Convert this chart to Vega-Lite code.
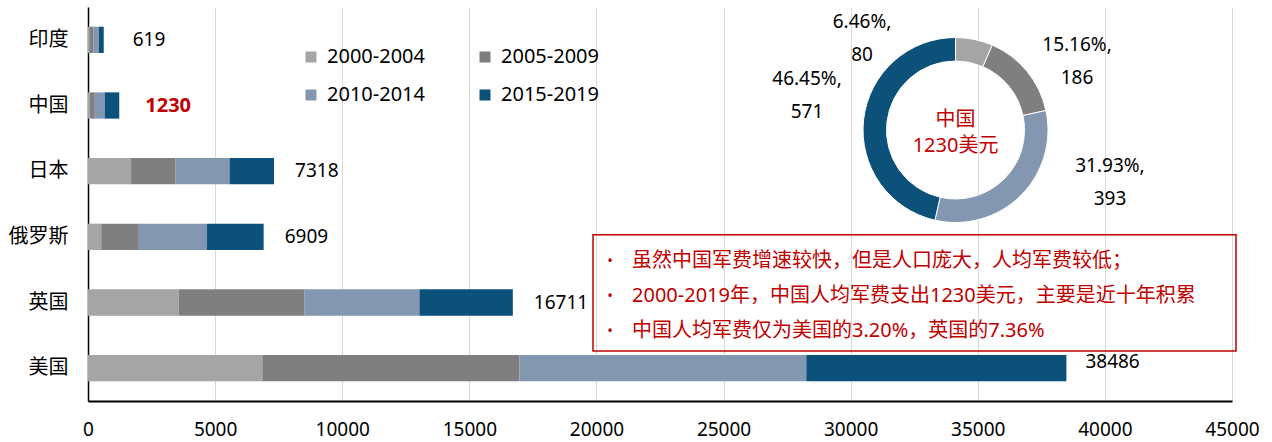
{
  "$schema": "https://vega.github.io/schema/vega-lite/v6.json",
  "width": 1144,
  "height": 394,
  "autosize": {"type": "none"},
  "padding": {"left": 88, "top": 7, "right": 40, "bottom": 41},
  "background": "white",
  "config": {
    "view": {"stroke": null},
    "font": "Noto Sans, Noto Sans CJK SC",
    "text": {"font": "Noto Sans, Noto Sans CJK SC"}
  },
  "datasets": {
    "spend": [
      {"country": "印度", "period": "2000-2004", "value": 60},
      {"country": "印度", "period": "2005-2009", "value": 150},
      {"country": "印度", "period": "2010-2014", "value": 220},
      {"country": "印度", "period": "2015-2019", "value": 189},
      {"country": "中国", "period": "2000-2004", "value": 80},
      {"country": "中国", "period": "2005-2009", "value": 186},
      {"country": "中国", "period": "2010-2014", "value": 393},
      {"country": "中国", "period": "2015-2019", "value": 571},
      {"country": "日本", "period": "2000-2004", "value": 1696},
      {"country": "日本", "period": "2005-2009", "value": 1750},
      {"country": "日本", "period": "2010-2014", "value": 2121},
      {"country": "日本", "period": "2015-2019", "value": 1751},
      {"country": "俄罗斯", "period": "2000-2004", "value": 522},
      {"country": "俄罗斯", "period": "2005-2009", "value": 1477},
      {"country": "俄罗斯", "period": "2010-2014", "value": 2683},
      {"country": "俄罗斯", "period": "2015-2019", "value": 2227},
      {"country": "英国", "period": "2000-2004", "value": 3572},
      {"country": "英国", "period": "2005-2009", "value": 4933},
      {"country": "英国", "period": "2010-2014", "value": 4532},
      {"country": "英国", "period": "2015-2019", "value": 3674},
      {"country": "美国", "period": "2000-2004", "value": 6857},
      {"country": "美国", "period": "2005-2009", "value": 10114},
      {"country": "美国", "period": "2010-2014", "value": 11283},
      {"country": "美国", "period": "2015-2019", "value": 10232}
    ],
    "cnlabels": [
      {"period": "2000-2004", "value": 80, "label": "6.46%,\n80"},
      {"period": "2005-2009", "value": 186, "label": "15.16%,\n186"},
      {"period": "2010-2014", "value": 393, "label": "31.93%,\n393"},
      {"period": "2015-2019", "value": 571, "label": "46.45%,\n571"}
    ],
    "center": [{"label": "中国\n1230美元"}],
    "notes": [{"label": "虽然中国军费增速较快，但是人口庞大，人均军费较低；\n2000-2019年，中国人均军费支出1230美元，主要是近十年积累\n中国人均军费仅为美国的3.20%，英国的7.36%"}]
  },
  "layer": [
    {
      "data": {"name": "spend"},
      "encoding": {
        "y": {
          "field": "country",
          "type": "nominal",
          "scale": {"domain": ["印度", "中国", "日本", "俄罗斯", "英国", "美国"], "paddingInner": 0.6, "paddingOuter": 0.3},
          "axis": {"title": null, "domainColor": "#000", "domainWidth": 1.5, "ticks": false, "labelFontSize": 20, "labelPadding": 20, "labelColor": "#000", "grid": false}
        }
      },
      "layer": [
        {
          "mark": {"type": "bar"},
          "encoding": {
            "x": {
              "field": "value",
              "type": "quantitative",
              "stack": "zero",
              "scale": {"domain": [0, 45000], "nice": false},
              "axis": {"title": null, "values": [0, 5000, 10000, 15000, 20000, 25000, 30000, 35000, 40000, 45000], "format": "d", "grid": true, "gridColor": "#D9D9D9", "gridWidth": 1, "ticks": false, "domainColor": "#000", "domainWidth": 2, "labelFontSize": 19, "labelPadding": 19, "labelColor": "#000", "labelFlush": false}
            },
            "color": {
              "field": "period",
              "type": "nominal",
              "scale": {"domain": ["2000-2004", "2005-2009", "2010-2014", "2015-2019"], "range": ["#A5A5A5", "#7F7F7F", "#8497B0", "#0B5179"]},
              "legend": {"title": null, "orient": "none", "direction": "horizontal", "legendX": 213, "legendY": 40, "columns": 2, "symbolType": "square", "symbolSize": 121, "symbolStrokeWidth": 0, "labelFontSize": 20, "labelOffset": 6, "columnPadding": 50, "rowPadding": 18, "labelColor": "#000", "padding": 0}
            },
            "order": {"field": "period"}
          }
        },
        {
          "transform": [{"filter": {"field": "country", "oneOf": ["日本", "俄罗斯", "英国"]}}],
          "mark": {"type": "text", "align": "left", "baseline": "middle", "dx": 21, "fontSize": 19, "color": "#000"},
          "encoding": {
            "x": {"aggregate": "sum", "field": "value", "type": "quantitative"},
            "text": {"aggregate": "sum", "field": "value", "type": "quantitative", "format": "d"}
          }
        },
        {
          "transform": [{"filter": {"field": "country", "equal": "印度"}}],
          "mark": {"type": "text", "align": "left", "baseline": "middle", "dx": 29, "fontSize": 19, "color": "#000"},
          "encoding": {
            "x": {"aggregate": "sum", "field": "value", "type": "quantitative"},
            "text": {"aggregate": "sum", "field": "value", "type": "quantitative", "format": "d"}
          }
        },
        {
          "transform": [{"filter": {"field": "country", "equal": "中国"}}],
          "mark": {"type": "text", "align": "left", "baseline": "middle", "dx": 26, "fontSize": 20, "fontWeight": "bold", "color": "#C00000"},
          "encoding": {
            "x": {"aggregate": "sum", "field": "value", "type": "quantitative"},
            "text": {"aggregate": "sum", "field": "value", "type": "quantitative", "format": "d"}
          }
        },
        {
          "transform": [{"filter": {"field": "country", "equal": "美国"}}],
          "mark": {"type": "text", "align": "left", "baseline": "middle", "dx": 19, "dy": -6, "fontSize": 19, "color": "#000"},
          "encoding": {
            "x": {"aggregate": "sum", "field": "value", "type": "quantitative"},
            "text": {"aggregate": "sum", "field": "value", "type": "quantitative", "format": "d"}
          }
        }
      ]
    },
    {
      "layer": [
        {
          "data": {"name": "notes"},
          "mark": {"type": "rect", "fill": null, "fillOpacity": 0, "stroke": "#C00000", "strokeWidth": 1.5},
          "encoding": {
            "x": {"datum": 19865, "type": "quantitative", "scale": {"domain": [0, 45000], "nice": false}},
            "x2": {"datum": 45157},
            "y": {"datum": 0.578, "type": "quantitative", "scale": {"domain": [0, 1], "reverse": true, "nice": false, "zero": false}, "axis": null},
            "y2": {"datum": 0.873}
          }
        },
        {
          "data": {"name": "notes"},
          "mark": {"type": "text", "align": "left", "baseline": "middle", "fontSize": 20, "color": "#C00000", "lineBreak": "\n", "lineHeight": 35},
          "encoding": {
            "x": {"datum": 21399, "type": "quantitative", "scale": {"domain": [0, 45000], "nice": false}},
            "y": {"datum": 0.6454, "type": "quantitative", "scale": {"domain": [0, 1], "reverse": true, "nice": false, "zero": false}, "axis": null},
            "text": {"field": "label", "type": "nominal"}
          }
        },
        {
          "data": {"name": "notes"},
          "mark": {"type": "text", "align": "center", "baseline": "middle", "fontSize": 15, "color": "#C00000", "lineBreak": "\n", "lineHeight": 35, "text": "•\n•\n•"},
          "encoding": {
            "x": {"datum": 20533, "type": "quantitative", "scale": {"domain": [0, 45000], "nice": false}},
            "y": {"datum": 0.6454, "type": "quantitative", "scale": {"domain": [0, 1], "reverse": true, "nice": false, "zero": false}, "axis": null}
          }
        },
        {
          "data": {"name": "spend"},
          "transform": [{"filter": {"field": "country", "equal": "中国"}}],
          "mark": {"type": "arc", "outerRadius": 92.5, "innerRadius": 69, "stroke": "white", "strokeWidth": 1},
          "encoding": {
            "theta": {"field": "value", "type": "quantitative", "stack": true},
            "order": {"field": "period"},
            "color": {"field": "period", "type": "nominal"},
            "x": {"datum": 34124, "type": "quantitative", "scale": {"domain": [0, 45000], "nice": false}},
            "y": {"datum": 0.3122, "type": "quantitative", "scale": {"domain": [0, 1], "reverse": true, "nice": false, "zero": false}, "axis": null}
          }
        },
        {
          "data": {"name": "cnlabels"},
          "mark": {"type": "text", "align": "center", "baseline": "middle", "fontSize": 19, "color": "#000", "lineBreak": "\n", "lineHeight": 33},
          "encoding": {
            "theta": {"field": "value", "type": "quantitative", "stack": false, "scale": {"type": "linear", "domain": [80, 186, 393, 571], "range": [5.570, 0.960, 1.800, 5.043], "zero": false, "nice": false}},
            "radius": {"field": "value", "type": "quantitative", "scale": {"type": "linear", "domain": [80, 186, 393, 571], "range": [142.9, 148.3, 158.6, 157.0], "zero": false, "nice": false}},
            "x": {"datum": 34124, "type": "quantitative", "scale": {"domain": [0, 45000], "nice": false}},
            "y": {"datum": 0.3122, "type": "quantitative", "scale": {"domain": [0, 1], "reverse": true, "nice": false, "zero": false}, "axis": null},
            "text": {"field": "label", "type": "nominal"}
          }
        },
        {
          "data": {"name": "center"},
          "mark": {"type": "text", "align": "center", "baseline": "middle", "fontSize": 20, "color": "#C00000", "lineBreak": "\n", "lineHeight": 26},
          "encoding": {
            "x": {"datum": 34124, "type": "quantitative", "scale": {"domain": [0, 45000], "nice": false}},
            "y": {"datum": 0.287, "type": "quantitative", "scale": {"domain": [0, 1], "reverse": true, "nice": false, "zero": false}, "axis": null},
            "text": {"field": "label", "type": "nominal"}
          }
        }
      ],
      "resolve": {"scale": {"theta": "independent", "radius": "independent"}}
    }
  ],
  "resolve": {"scale": {"y": "independent"}, "axis": {"y": "independent"}}
}
